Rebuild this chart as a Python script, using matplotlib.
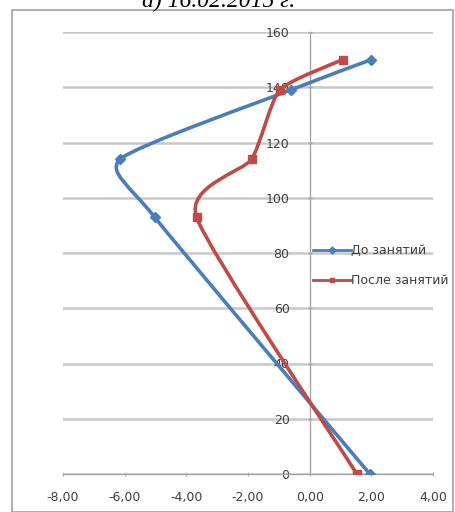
import numpy as np
import matplotlib
matplotlib.use("Agg")
import matplotlib.pyplot as plt
from matplotlib.path import Path
from matplotlib.patches import PathPatch, Rectangle
from matplotlib.lines import Line2D

# heights (y) and deviations (x) for the two series
heights = [0, 93, 114, 139, 150]
before = [1.95, -5.03, -6.14, -0.62, 2.0]
after = [1.53, -3.67, -1.88, -0.97, 1.07]
series_names = ["До занятий", "После занятий"]
x_ticks = [-8, -6, -4, -2, 0, 2, 4]
y_ticks = [0, 20, 40, 60, 80, 100, 120, 140, 160]

BLUE = "#4a7ebb"
RED = "#be4b48"


def smooth_path(xs, ys, t=0.1):
    # bezier through the points, mild tension (smoothed line look)
    pts = np.column_stack([xs, ys]).astype(float)
    verts = [pts[0]]
    codes = [Path.MOVETO]
    n = len(pts)
    for i in range(n - 1):
        p0 = pts[i - 1] if i > 0 else pts[i]
        p1 = pts[i]
        p2 = pts[i + 1]
        p3 = pts[i + 2] if i + 2 < n else pts[i + 1]
        c1 = p1 + (p2 - p0) * t
        c2 = p2 - (p3 - p1) * t
        verts += [c1, c2, p2]
        codes += [Path.CURVE4] * 3
    return Path(verts, codes)


fig = plt.figure(figsize=(4.55, 5.12), dpi=100)

# outer chart frame and the caption above it (cut by the top edge)
fig.patches.append(Rectangle((12 / 455, 0.0), 441 / 455, 502 / 512,
                             transform=fig.transFigure, fill=False,
                             edgecolor="#a0a0a0", lw=1.2))
fig.text(0.48, 0.998, "а) 16.02.2015 г.", ha="center", va="center",
         fontsize=17, style="italic", family="Liberation Serif")

ax = fig.add_axes([63 / 455, 1 - 474 / 512, 370 / 455, 442 / 512])
ax.set_xlim(-8, 4)
ax.set_ylim(0, 160)

for s in ["top", "right"]:
    ax.spines[s].set_visible(False)
ax.spines["left"].set_position(("data", 0))
ax.spines["bottom"].set_position(("data", 0))
for s in ["left", "bottom"]:
    ax.spines[s].set_color("#a6a6a6")
    ax.spines[s].set_linewidth(1.0)

ax.set_xticks(x_ticks)
ax.set_xticklabels([f"{v:.2f}".replace(".", ",") for v in x_ticks])
ax.set_yticks(y_ticks)
ax.set_yticklabels([str(v) for v in y_ticks])
ax.tick_params(axis="both", colors="#a6a6a6", labelcolor="#404040",
               labelsize=9, length=3, direction="inout")
ax.tick_params(axis="x", pad=11)
ax.tick_params(axis="y", pad=13)

ax.yaxis.grid(True, color="#c8c8c8", lw=1.8)
ax.set_axisbelow(True)

for xs, color, marker, ms in [(before, BLUE, "D", 5.5), (after, RED, "s", 5.5)]:
    ax.add_patch(PathPatch(smooth_path(xs, heights), fill=False,
                           edgecolor=color, lw=2.6, zorder=3))
    ax.plot(xs, heights, linestyle="none", marker=marker, ms=ms,
            color=color, zorder=4)

handles = [
    Line2D([], [], color=BLUE, lw=2, marker="D", ms=3.5),
    Line2D([], [], color=RED, lw=2, marker="s", ms=3.5),
]
fig.legend(handles, series_names, loc="upper left",
           bbox_to_anchor=(307 / 455, 1 - 238 / 512), frameon=False,
           fontsize=9, handlelength=3.0, handletextpad=0.05,
           labelspacing=1.35, borderpad=0, labelcolor="#404040")

fig.savefig("out.png", dpi=100)
